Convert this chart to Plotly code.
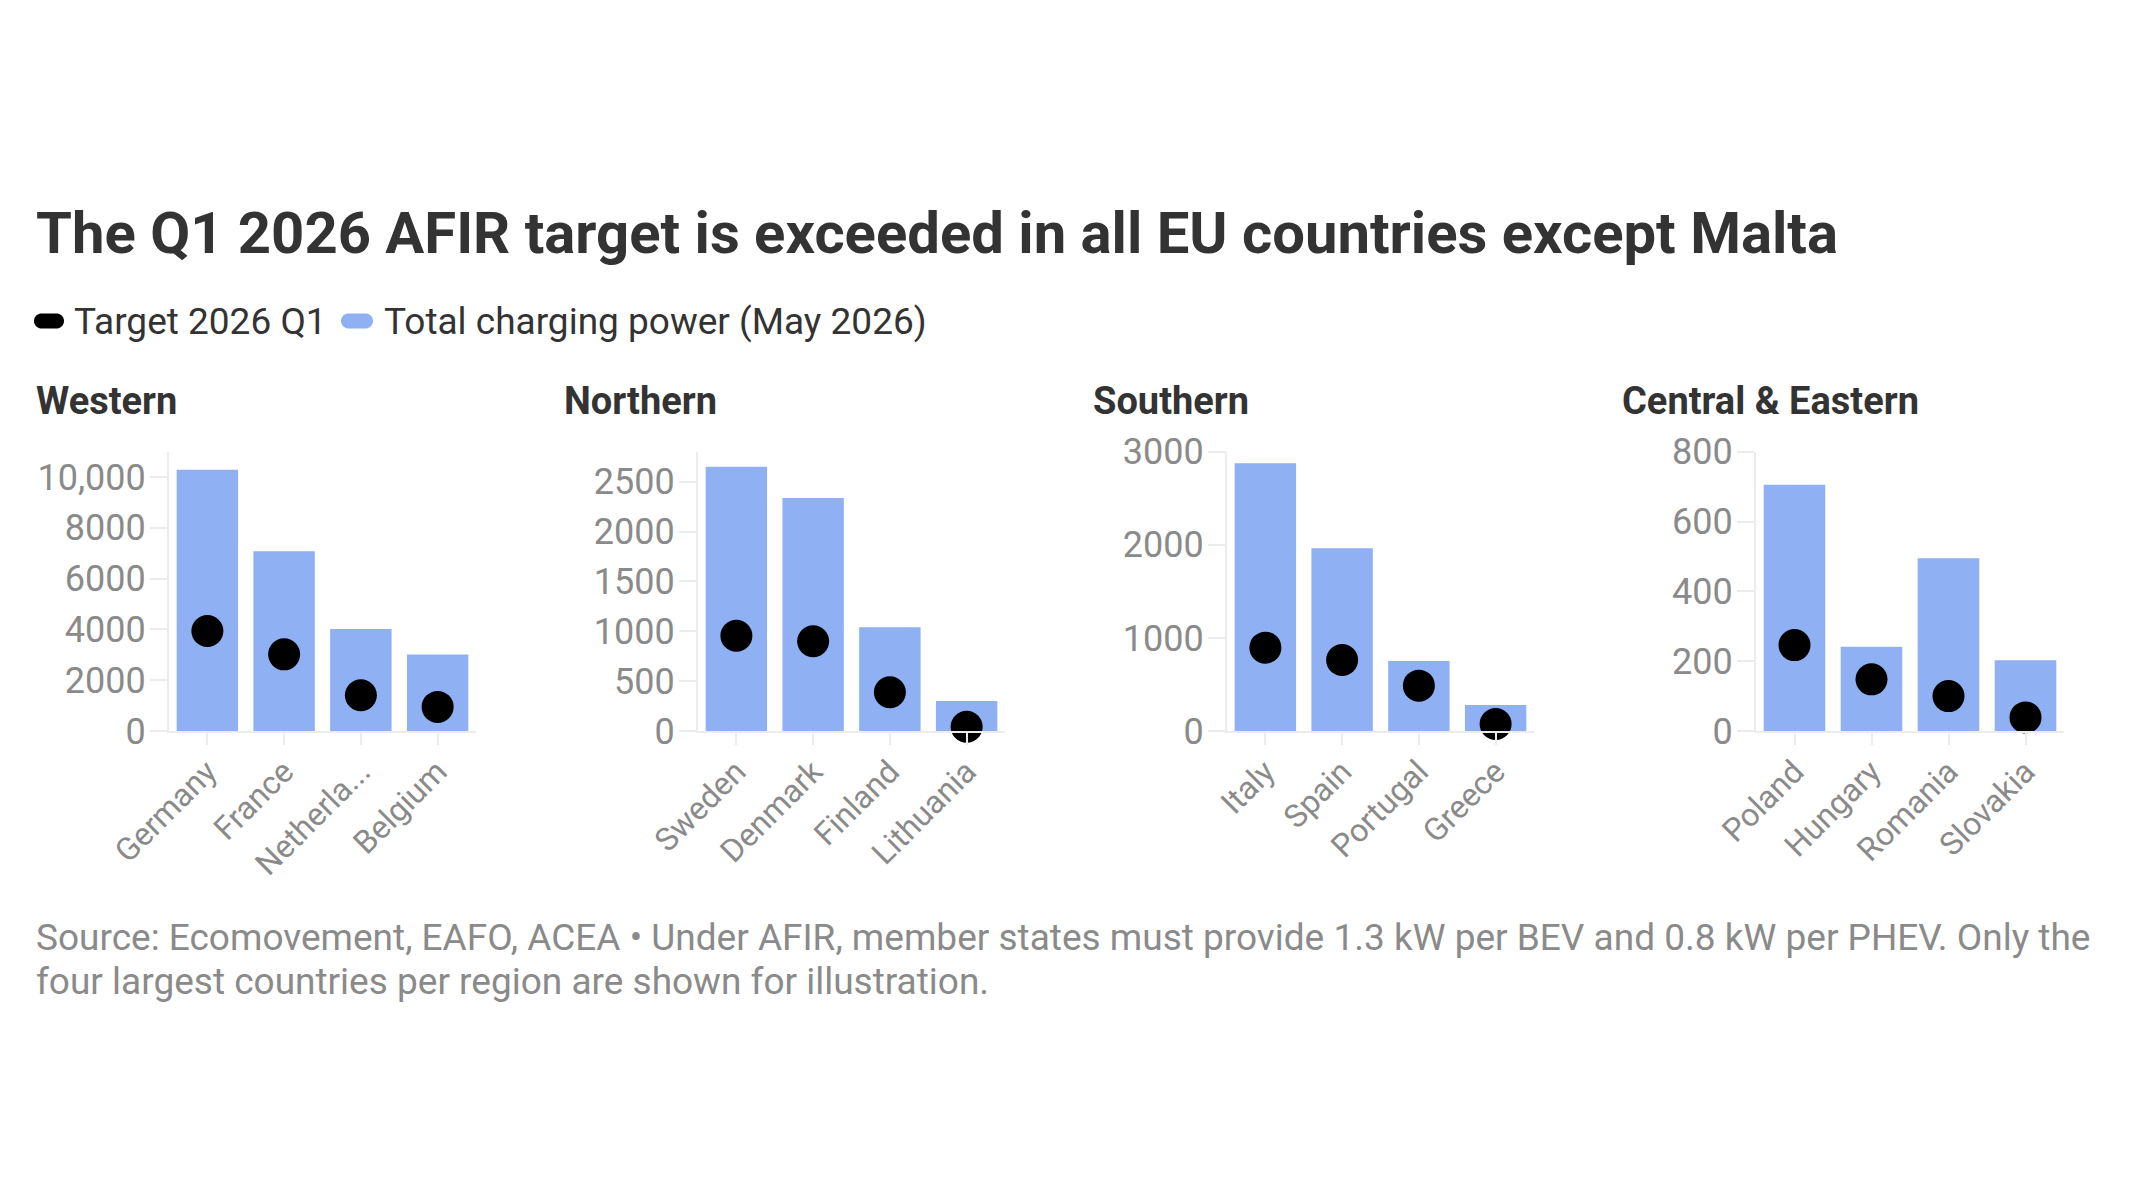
import math
import plotly.graph_objects as go

W, H = 2133, 1200

regions = ["Western", "Northern", "Southern", "Central &amp; Eastern"]

western_countries = ["Germany", "France", "Netherlands", "Belgium"]
western_labels = ["Germany", "France", "Netherla...", "Belgium"]
western_power = [10290, 7080, 4020, 3010]
western_target = [3940, 3020, 1410, 950]

northern_countries = ["Sweden", "Denmark", "Finland", "Lithuania"]
northern_labels = ["Sweden", "Denmark", "Finland", "Lithuania"]
northern_power = [2650, 2335, 1040, 300]
northern_target = [955, 900, 388, 43]

southern_countries = ["Italy", "Spain", "Portugal", "Greece"]
southern_labels = ["Italy", "Spain", "Portugal", "Greece"]
southern_power = [2875, 1962, 752, 280]
southern_target = [895, 763, 487, 75]

central_countries = ["Poland", "Hungary", "Romania", "Slovakia"]
central_labels = ["Poland", "Hungary", "Romania", "Slovakia"]
central_power = [705, 241, 495, 203]
central_target = [246, 148, 100, 39]

y_ranges = [[0, 11000], [0, 2800], [0, 3000], [0, 800]]
y_tickvals = [
    [0, 2000, 4000, 6000, 8000, 10000],
    [0, 500, 1000, 1500, 2000, 2500],
    [0, 1000, 2000, 3000],
    [0, 200, 400, 600, 800],
]
y_ticktext = [
    ["0", "2000", "4000", "6000", "8000", "10,000"],
    ["0", "500", "1000", "1500", "2000", "2500"],
    ["0", "1000", "2000", "3000"],
    ["0", "200", "400", "600", "800"],
]

title_text = "The Q1 2026 AFIR target is exceeded in all EU countries except Malta"
legend_labels = ["Target 2026 Q1", "Total charging power (May 2026)"]
source_lines = [
    "Source: Ecomovement, EAFO, ACEA • Under AFIR, member states must provide 1.3 kW per BEV "
    "and 0.8 kW per PHEV. Only the",
    "four largest countries per region are shown for illustration.",
]

BAR = "#8fb0f3"
DOT = "#000000"
FONT = "Roboto"
TICK_COL = "#8a8a8a"
TEXT_COL = "#333333"
LINE_COL = "#ececec"

panels = [
    (western_countries, western_labels, western_power, western_target),
    (northern_countries, northern_labels, northern_power, northern_target),
    (southern_countries, southern_labels, southern_power, southern_target),
    (central_countries, central_labels, central_power, central_target),
]

# pixel layout
x_px = [(169, 476), (698, 1005), (1227, 1534), (1756, 2064)]
title_px_x = [34, 562, 1091, 1620]
y_top_px, y_bot_px = 451.7, 731

fig = go.Figure()
layout = {}
for i, (cats, labels, power, target) in enumerate(panels):
    n = "" if i == 0 else str(i + 1)
    xa, ya = "x" + n, "y" + n
    fig.add_trace(go.Bar(x=cats, y=power, marker=dict(color=BAR, line=dict(width=0)),
                         width=0.8, xaxis=xa, yaxis=ya, showlegend=False,
                         name=legend_labels[1]))
    fig.add_trace(go.Scatter(x=cats, y=target, mode="markers",
                             marker=dict(color=DOT, size=32, line=dict(width=0)),
                             xaxis=xa, yaxis=ya, showlegend=False, cliponaxis=False,
                             name=legend_labels[0]))
    layout["xaxis" + n] = dict(
        domain=[x_px[i][0] / W, x_px[i][1] / W], anchor=ya, automargin=False,
        range=[-0.5, 3.5], tickvals=cats, ticktext=labels, tickangle=-45,
        showline=True, linecolor=LINE_COL, linewidth=2,
        ticks="outside", ticklen=12, tickcolor=LINE_COL, tickwidth=2,
        ticklabelstandoff=-5,
        tickfont=dict(family=FONT, size=32, color=TICK_COL),
        showgrid=False, zeroline=False, fixedrange=True,
    )
    layout["yaxis" + n] = dict(
        domain=[1 - y_bot_px / H, 1 - y_top_px / H], anchor=xa, automargin=False,
        range=y_ranges[i], tickvals=y_tickvals[i], ticktext=y_ticktext[i],
        showline=True, linecolor=LINE_COL, linewidth=2,
        ticks="outside", ticklen=17, tickcolor=LINE_COL, tickwidth=2,
        ticklabelstandoff=-3,
        tickfont=dict(family=FONT, size=36, color=TICK_COL),
        showgrid=False, zeroline=False, fixedrange=True,
    )


def ann(text, xpx, ypx, size, color, bold=False):
    return dict(text=("<b>" + text + "</b>") if bold else text,
                x=xpx / W, y=1 - ypx / H, xref="paper", yref="paper",
                xanchor="left", yanchor="middle", showarrow=False, align="left",
                font=dict(family=FONT, size=size, color=color))


annotations = [
    ann(title_text, 34, 233, 58, TEXT_COL, bold=True),
    ann(legend_labels[0], 72, 321, 37, TEXT_COL),
    ann(legend_labels[1], 382, 321, 37, TEXT_COL),
    ann(source_lines[0], 34, 937, 37, TICK_COL),
    ann(source_lines[1], 34, 981, 37, TICK_COL),
]
for i, r in enumerate(regions):
    annotations.append(ann(r, title_px_x[i], 401, 38, TEXT_COL, bold=True))


def pill(x0, x1, yc, h, color):
    r = h / 2
    pts = []
    for k in range(0, 19):
        a = math.pi / 2 + math.pi * k / 18
        pts.append((x0 + r + r * math.cos(a), yc - r * math.sin(a)))
    for k in range(0, 19):
        a = -math.pi / 2 + math.pi * k / 18
        pts.append((x1 - r + r * math.cos(a), yc - r * math.sin(a)))
    path = "M " + " L ".join(f"{px / W:.5f},{1 - py / H:.5f}" for px, py in pts) + " Z"
    return dict(type="path", path=path, xref="paper", yref="paper",
                fillcolor=color, line=dict(width=0))


shapes = [pill(34, 64, 321, 15, DOT), pill(341, 373, 321, 15, BAR)]

fig.update_layout(
    width=W, height=H, margin=dict(l=0, r=0, t=0, b=0, autoexpand=False),
    paper_bgcolor="white", plot_bgcolor="white",
    bargap=0.2, showlegend=False,
    annotations=annotations, shapes=shapes,
    font=dict(family=FONT), **layout,
)

fig.write_html("out.html", config={"displayModeBar": False})
